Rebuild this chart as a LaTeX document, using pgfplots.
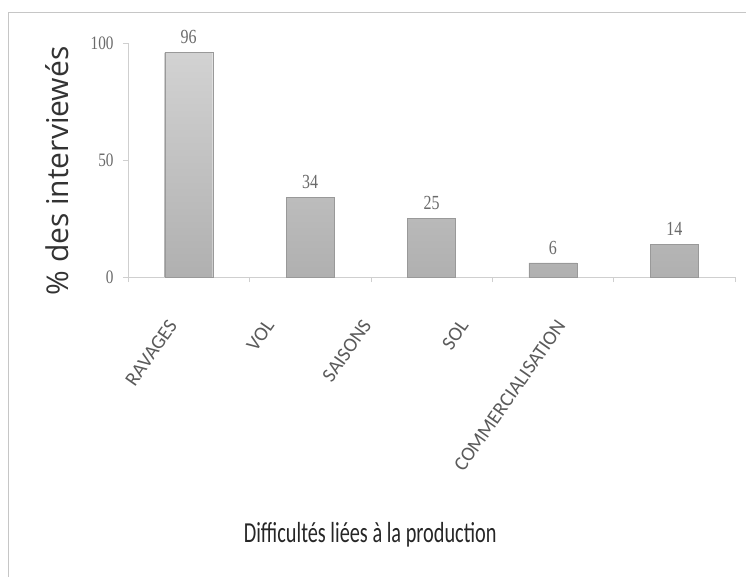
\documentclass[border=0pt]{standalone}
\usepackage{pgfplots}
\pgfplotsset{compat=1.18}
\usepackage{fontspec}
\setmainfont{Carlito}
\newfontfamily\xlabfont[FakeStretch=0.7]{Carlito}
\newfontfamily\ylabfont{Open Sans}
\newfontfamily\numfont[FakeStretch=0.8]{Liberation Serif}
\definecolor{txtgray}{HTML}{6A6A6A}
\definecolor{axgray}{HTML}{CFCFCF}
\begin{document}
\begin{tikzpicture}
\path[use as bounding box] (-128bp,-300bp) rectangle (618bp,277bp);
\draw[gray!45, line width=0.6bp] (-120bp,-300bp) -- (-120bp,265bp) -- (618bp,265bp);
\begin{axis}[
  scale only axis,
  width=607bp, height=234bp,
  xmin=-0.5, xmax=4.5,
  ymin=0, ymax=100,
  axis x line*=bottom,
  axis y line*=left,
  axis line style={axgray, line width=0.6bp},
  ytick={0,50,100},
  xtick={0,0.8,1.6,2.4,3.2},
  xticklabels={RAVAGES,VOL,SAISONS,SOL,COMMERCIALISATION},
  minor xtick={-0.5,0.5,1.5,2.5,3.5,4.5},
  major x tick style={draw=none},
  minor x tick style={axgray, line width=0.6bp},
  ytick style={axgray, line width=0.6bp},
  tick align=outside,
  major tick length=5bp, minor tick length=5bp,
  yticklabel style={font=\numfont\fontsize{19bp}{19bp}\selectfont, text=txtgray, xshift=-6bp},
  /pgf/number format/assume math mode=true,
  xticklabel style={font=\fontsize{20bp}{20bp}\selectfont, text=txtgray!85!black, xshift=-16bp, yshift=-40bp, rotate=55, anchor=east, inner sep=0pt},
  xlabel={Difficultés liées à la production},
  xlabel style={font=\xlabfont\fontsize{29bp}{29bp}\selectfont, text=black!85, at={(axis description cs:0.399,-1.103)}, anchor=center},
  ylabel={\%  des interviewés},
  ylabel style={font=\ylabfont\fontsize{30bp}{30bp}\selectfont, text=black!80, at={(axis description cs:-0.117,0.453)}, anchor=center, rotate=0},
  ybar, bar width=48bp,
  nodes near coords,
  every node near coord/.append style={font=\numfont\fontsize{20bp}{20bp}\selectfont, text=txtgray, yshift=5bp},
  clip=false,
]
\addplot[draw=gray!80, top color=gray!35, bottom color=gray!62] coordinates {(0,96) (1,34) (2,25) (3,6) (4,14)};
\end{axis}
\end{tikzpicture}
\end{document}
